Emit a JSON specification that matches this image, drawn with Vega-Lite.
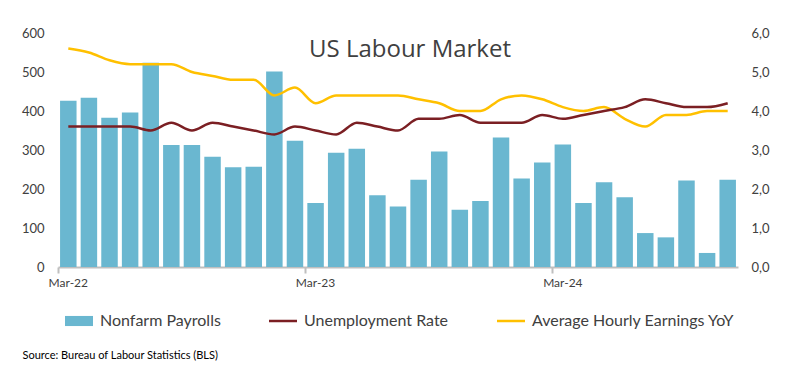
{
  "$schema": "https://vega.github.io/schema/vega-lite/v6.json",
  "width": 680,
  "height": 234,
  "autosize": {"type": "none"},
  "padding": {"left": 58, "top": 33, "right": 61, "bottom": 112},
  "background": "white",
  "title": {
    "text": "US Labour Market",
    "orient": "top",
    "anchor": "middle",
    "frame": "group",
    "font": "Open Sans",
    "fontSize": 24,
    "fontWeight": "normal",
    "color": "#404040",
    "baseline": "alphabetic",
    "offset": 0,
    "dx": 12,
    "dy": 54
  },
  "config": {
    "view": {"stroke": null},
    "font": "Lato"
  },
  "data": {
    "values": [
      {"month": "Mar-22", "payrolls": 426, "Unemployment Rate": 3.6, "Average Hourly Earnings YoY": 5.6},
      {"month": "Apr-22", "payrolls": 434, "Unemployment Rate": 3.6, "Average Hourly Earnings YoY": 5.5},
      {"month": "May-22", "payrolls": 383, "Unemployment Rate": 3.6, "Average Hourly Earnings YoY": 5.3},
      {"month": "Jun-22", "payrolls": 396, "Unemployment Rate": 3.6, "Average Hourly Earnings YoY": 5.2},
      {"month": "Jul-22", "payrolls": 524, "Unemployment Rate": 3.5, "Average Hourly Earnings YoY": 5.2},
      {"month": "Aug-22", "payrolls": 313, "Unemployment Rate": 3.7, "Average Hourly Earnings YoY": 5.2},
      {"month": "Sep-22", "payrolls": 313, "Unemployment Rate": 3.5, "Average Hourly Earnings YoY": 5.0},
      {"month": "Oct-22", "payrolls": 283, "Unemployment Rate": 3.7, "Average Hourly Earnings YoY": 4.9},
      {"month": "Nov-22", "payrolls": 256, "Unemployment Rate": 3.6, "Average Hourly Earnings YoY": 4.8},
      {"month": "Dec-22", "payrolls": 257, "Unemployment Rate": 3.5, "Average Hourly Earnings YoY": 4.8},
      {"month": "Jan-23", "payrolls": 501, "Unemployment Rate": 3.4, "Average Hourly Earnings YoY": 4.4},
      {"month": "Feb-23", "payrolls": 324, "Unemployment Rate": 3.6, "Average Hourly Earnings YoY": 4.6},
      {"month": "Mar-23", "payrolls": 164, "Unemployment Rate": 3.5, "Average Hourly Earnings YoY": 4.2},
      {"month": "Apr-23", "payrolls": 293, "Unemployment Rate": 3.4, "Average Hourly Earnings YoY": 4.4},
      {"month": "May-23", "payrolls": 303, "Unemployment Rate": 3.7, "Average Hourly Earnings YoY": 4.4},
      {"month": "Jun-23", "payrolls": 184, "Unemployment Rate": 3.6, "Average Hourly Earnings YoY": 4.4},
      {"month": "Jul-23", "payrolls": 155, "Unemployment Rate": 3.5, "Average Hourly Earnings YoY": 4.4},
      {"month": "Aug-23", "payrolls": 224, "Unemployment Rate": 3.8, "Average Hourly Earnings YoY": 4.3},
      {"month": "Sep-23", "payrolls": 296, "Unemployment Rate": 3.8, "Average Hourly Earnings YoY": 4.2},
      {"month": "Oct-23", "payrolls": 147, "Unemployment Rate": 3.9, "Average Hourly Earnings YoY": 4.0},
      {"month": "Nov-23", "payrolls": 169, "Unemployment Rate": 3.7, "Average Hourly Earnings YoY": 4.0},
      {"month": "Dec-23", "payrolls": 332, "Unemployment Rate": 3.7, "Average Hourly Earnings YoY": 4.3},
      {"month": "Jan-24", "payrolls": 227, "Unemployment Rate": 3.7, "Average Hourly Earnings YoY": 4.4},
      {"month": "Feb-24", "payrolls": 268, "Unemployment Rate": 3.9, "Average Hourly Earnings YoY": 4.3},
      {"month": "Mar-24", "payrolls": 314, "Unemployment Rate": 3.8, "Average Hourly Earnings YoY": 4.1},
      {"month": "Apr-24", "payrolls": 164, "Unemployment Rate": 3.9, "Average Hourly Earnings YoY": 4.0},
      {"month": "May-24", "payrolls": 217, "Unemployment Rate": 4.0, "Average Hourly Earnings YoY": 4.1},
      {"month": "Jun-24", "payrolls": 179, "Unemployment Rate": 4.1, "Average Hourly Earnings YoY": 3.8},
      {"month": "Jul-24", "payrolls": 87, "Unemployment Rate": 4.3, "Average Hourly Earnings YoY": 3.6},
      {"month": "Aug-24", "payrolls": 76, "Unemployment Rate": 4.2, "Average Hourly Earnings YoY": 3.9},
      {"month": "Sep-24", "payrolls": 222, "Unemployment Rate": 4.1, "Average Hourly Earnings YoY": 3.9},
      {"month": "Oct-24", "payrolls": 36, "Unemployment Rate": 4.1, "Average Hourly Earnings YoY": 4.0},
      {"month": "Nov-24", "payrolls": 224, "Unemployment Rate": 4.2, "Average Hourly Earnings YoY": 4.0}
    ]
  },
  "encoding": {
    "x": {
      "field": "month",
      "type": "ordinal",
      "sort": null,
      "scale": {"paddingInner": 0.2, "paddingOuter": 0.1},
      "axis": {
        "values": ["Mar-22", "Mar-23", "Mar-24"],
        "labelAngle": 0,
        "bandPosition": -0.125,
        "labelOffset": 0,
        "domainColor": "#bfbfbf",
        "domainWidth": 2,
        "tickColor": "#bfbfbf",
        "tickWidth": 2,
        "tickSize": 6,
        "labelFontSize": 12,
        "labelColor": "#404040",
        "labelPadding": 4,
        "grid": false,
        "title": "Source: Bureau of Labour Statistics (BLS)",
        "titleFont": "Lato",
        "titleFontSize": 11,
        "titleFontWeight": "normal",
        "titleColor": "#000000",
        "titleAlign": "left",
        "titleAnchor": "start",
        "titleBaseline": "alphabetic",
        "titleX": -36,
        "titleY": 91
      }
    }
  },
  "layer": [
    {
      "mark": {"type": "bar"},
      "encoding": {
        "y": {
          "field": "payrolls",
          "type": "quantitative",
          "scale": {"domain": [0, 600]},
          "axis": {
            "values": [0, 100, 200, 300, 400, 500, 600],
            "domain": false,
            "ticks": false,
            "grid": false,
            "labelFontSize": 13,
            "labelColor": "#404040",
            "labelPadding": 14,
            "title": null
          }
        },
        "color": {
          "datum": "Nonfarm Payrolls",
          "title": null,
          "scale": {
            "domain": ["Nonfarm Payrolls", "Unemployment Rate", "Average Hourly Earnings YoY"],
            "range": ["#6ab7d0", "#7b1f23", "#ffc000"]
          },
          "legend": {
            "orient": "none",
            "legendX": 13,
            "legendY": 280,
            "direction": "horizontal",
            "title": null,
            "labelFont": "Lato",
            "labelFontSize": 16,
            "labelColor": "#404040",
            "labelOffset": 13,
            "labelLimit": 400,
            "columnPadding": 43,
            "symbolType": "stroke",
            "symbolSize": 784,
            "symbolStrokeWidth": 2.5,
            "encode": {
              "symbols": {
                "update": {
                  "shape": {"signal": "datum.value === 'Nonfarm Payrolls' ? 'M-1,-0.36H1V0.36H-1Z' : 'stroke'"},
                  "fill": {"signal": "datum.value === 'Nonfarm Payrolls' ? '#6ab7d0' : 'transparent'"},
                  "stroke": {"signal": "datum.value === 'Nonfarm Payrolls' ? '#6ab7d0' : (datum.value === 'Unemployment Rate' ? '#7b1f23' : '#ffc000')"},
                  "strokeWidth": {"signal": "datum.value === 'Nonfarm Payrolls' ? 0 : 2.5"}
                }
              }
            }
          }
        }
      }
    },
    {
      "transform": [
        {"fold": ["Average Hourly Earnings YoY", "Unemployment Rate"], "as": ["series", "rate"]}
      ],
      "mark": {"type": "line", "interpolate": "monotone", "strokeWidth": 2.5},
      "encoding": {
        "y": {
          "field": "rate",
          "type": "quantitative",
          "scale": {"domain": [0, 6]},
          "axis": {
            "orient": "right",
            "values": [0, 1, 2, 3, 4, 5, 6],
            "labelExpr": "replace(format(datum.value, '.1f'), '.', ',')",
            "domain": false,
            "ticks": false,
            "grid": false,
            "labelFontSize": 13,
            "labelColor": "#404040",
            "labelPadding": 13,
            "title": null
          }
        },
        "color": {"field": "series", "type": "nominal", "title": null},
        "detail": {"field": "series"}
      }
    }
  ],
  "resolve": {"scale": {"y": "independent"}}
}
